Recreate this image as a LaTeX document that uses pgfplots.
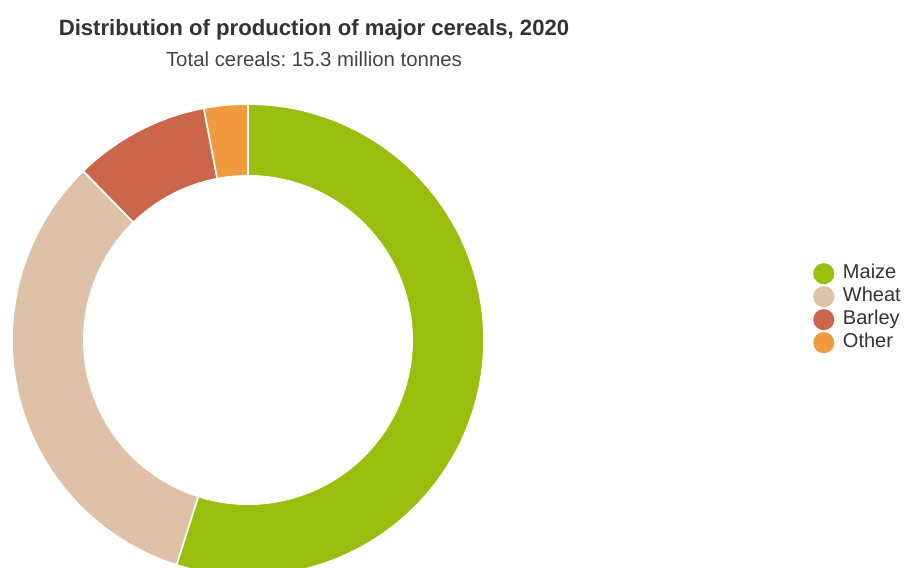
\documentclass[border=0pt]{standalone}
\usepackage{pgfplots}
\pgfplotsset{compat=1.18}
\usepackage{pgfplotstable}
\usepackage{fontspec}
\setmainfont{Liberation Sans}
\frenchspacing
\definecolor{cMaize}{HTML}{99BE0E}
\definecolor{cWheat}{HTML}{DFC1A7}
\definecolor{cBarley}{HTML}{CB664B}
\definecolor{cOther}{HTML}{F29A40}
\definecolor{tTitle}{HTML}{333333}
\definecolor{tSub}{HTML}{444444}

\pgfplotstableread{
name value
Maize 54.9
Wheat 32.8
Barley 9.3
Other 3.0
}\cereals

\begin{document}
\begin{tikzpicture}
\pgfplotstablegetelem{0}{value}\of\cereals \let\vA\pgfplotsretval
\pgfplotstablegetelem{1}{value}\of\cereals \let\vB\pgfplotsretval
\pgfplotstablegetelem{2}{value}\of\cereals \let\vC\pgfplotsretval
\pgfplotstablegetelem{3}{value}\of\cereals \let\vD\pgfplotsretval
\pgfmathsetmacro\aA{3.6*\vA}
\pgfmathsetmacro\aB{\aA+3.6*\vB}
\pgfmathsetmacro\aC{\aB+3.6*\vC}
\pgfmathsetmacro\aD{\aC+3.6*\vD}
\useasboundingbox (0,0) rectangle (678pt,426pt);
\begin{axis}[
  at={(0,0)}, anchor=south west,
  scale only axis, width=678pt, height=426pt,
  xmin=-248, xmax=656, ymin=-228, ymax=340,
  hide axis, clip mode=individual,
  legend style={at={(0.8993,0.4574)}, anchor=west, draw=none, fill=none,
    inner sep=0pt, row sep=1.45pt, column sep=6.5pt,
    nodes={inner sep=0pt, text height=10.8pt, text depth=3.2pt, text=tTitle},
    font=\fontsize{15}{17}\selectfont},
  legend cell align=left,
  legend image code/.code={\fill[#1,draw=none] (7.9pt,0pt) circle (7.9pt);},
]
\addplot[fill=cMaize, draw=white, line width=1.2pt, domain=0:\aA, samples=150, variable=\t]
  ({236*sin(\t)},{236*cos(\t)}) -- (0,0) -- cycle;
\addlegendentry{Maize}
\addplot[fill=cWheat, draw=white, line width=1.2pt, domain=\aA:\aB, samples=100, variable=\t]
  ({236*sin(\t)},{236*cos(\t)}) -- (0,0) -- cycle;
\addlegendentry{Wheat}
\addplot[fill=cBarley, draw=white, line width=1.2pt, domain=\aB:\aC, samples=40, variable=\t]
  ({236*sin(\t)},{236*cos(\t)}) -- (0,0) -- cycle;
\addlegendentry{Barley}
\addplot[fill=cOther, draw=white, line width=1.2pt, domain=\aC:\aD, samples=20, variable=\t]
  ({236*sin(\t)},{236*cos(\t)}) -- (0,0) -- cycle;
\addlegendentry{Other}
\addplot[forget plot, fill=white, draw=none, domain=0:360, samples=200, variable=\t]
  ({165*sin(\t)},{165*cos(\t)}) -- cycle;
\node[anchor=base, text=tTitle, font=\bfseries\fontsize{16.6}{19}\selectfont] at (66,304)
  {Distribution of production of major cereals, 2020};
\node[anchor=base, text=tSub, font=\fontsize{15.3}{17}\selectfont] at (66,273)
  {Total cereals: 15.3 million tonnes};
\end{axis}
\end{tikzpicture}
\end{document}
